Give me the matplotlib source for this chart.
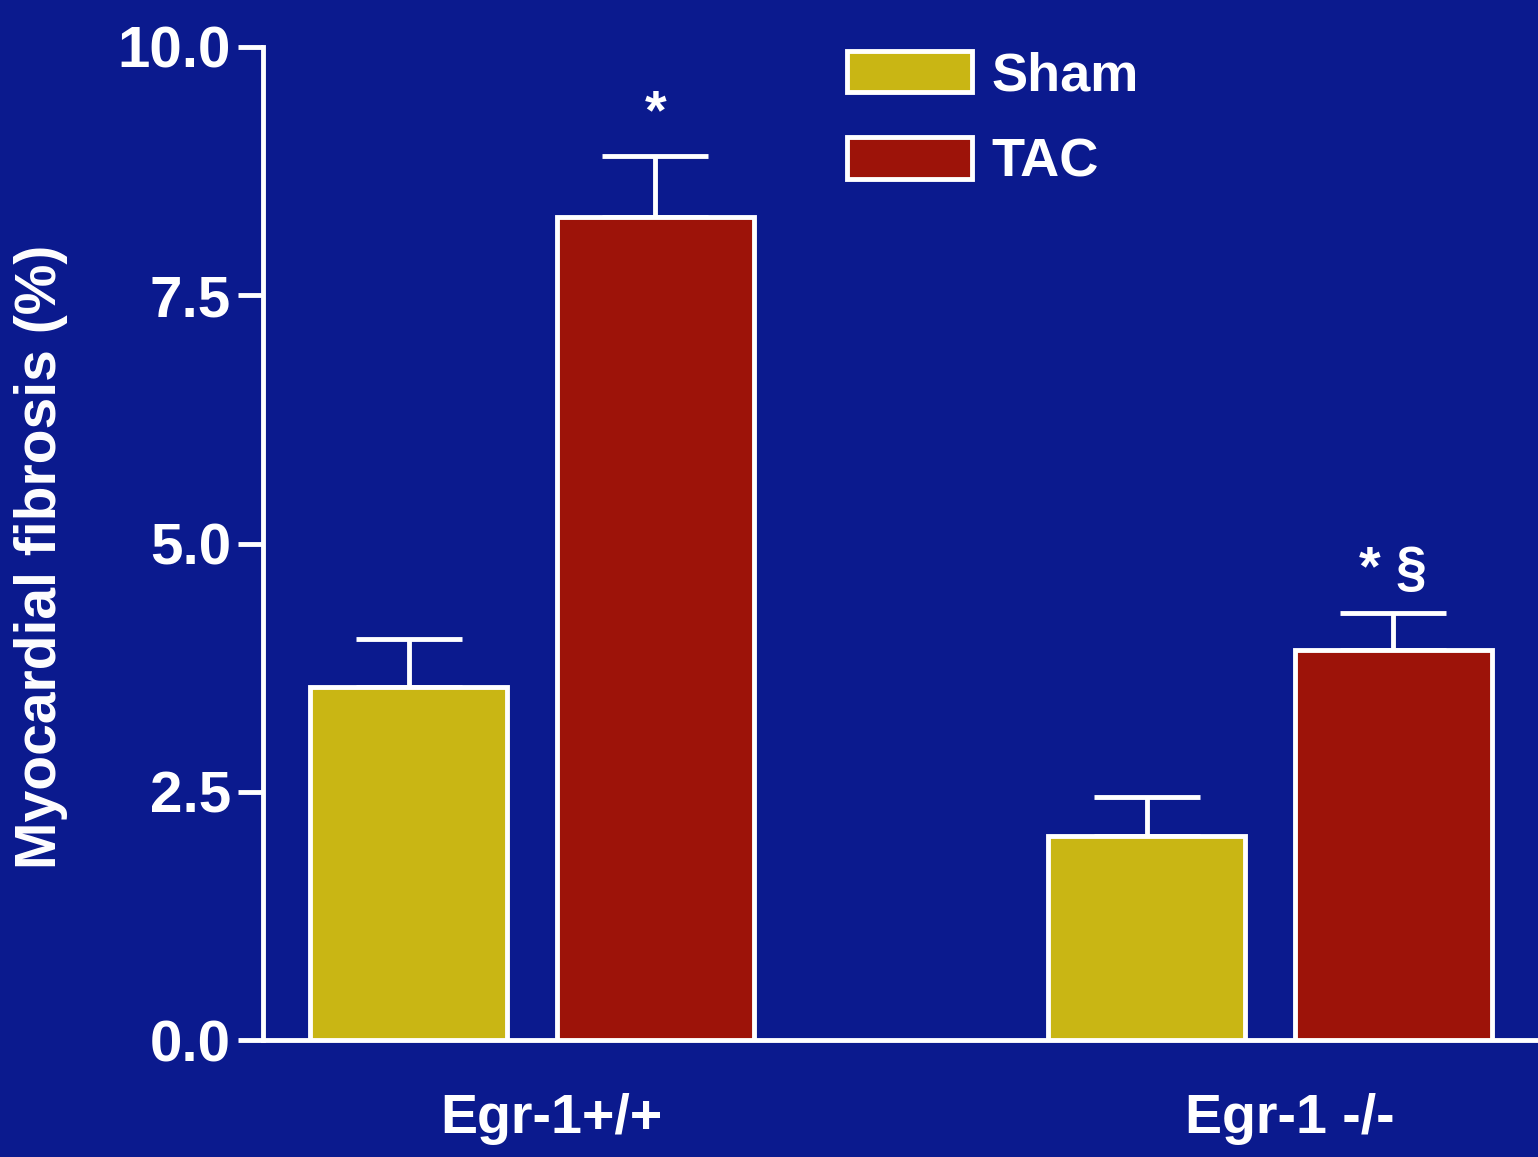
import numpy as np
import matplotlib
matplotlib.use("Agg")
import matplotlib.pyplot as plt
import matplotlib.transforms as mtransforms

# Myocardial fibrosis after TAC in wild-type vs Egr-1 knockout mice

groups = ["Egr-1+/+", "Egr-1 -/-"]
series = ["Sham", "TAC"]
sham_mean = [3.55, 2.05]
sham_sem = [0.49, 0.40]
tac_mean = [8.29, 3.93]
tac_sem = [0.61, 0.37]
tac_marks = ["*", "* \u00a7"]

BG = "#0b1a8e"
YELLOW = "#c9b614"
RED = "#9d1309"
WHITE = "white"

plt.rcParams["font.family"] = ["Liberation Sans", "DejaVu Sans"]
plt.rcParams["font.weight"] = "bold"

fig = plt.figure(figsize=(15.38, 11.57), dpi=100, facecolor=BG)
ax = fig.add_axes([263 / 1538, 0.1011, 1 - 263 / 1538, 0.8583])
ax.set_facecolor(BG)

x = np.arange(len(groups))
offset = 0.167
width = 0.267
lw = 3.5

bars_sham = ax.bar(x - offset, sham_mean, width, color=YELLOW, edgecolor=WHITE,
                   linewidth=lw, label=series[0], zorder=3)
bars_tac = ax.bar(x + offset, tac_mean, width, color=RED, edgecolor=WHITE,
                  linewidth=lw, label=series[1], zorder=3)

# upper-only SEM whiskers
for xs, m, e in [(x - offset, sham_mean, sham_sem), (x + offset, tac_mean, tac_sem)]:
    ax.errorbar(xs, m, yerr=[np.zeros(len(e)), e], fmt="none", ecolor=WHITE,
                elinewidth=lw, capsize=38, capthick=lw, zorder=2)

# significance marks above TAC bars
for xi, m, e, txt in zip(x + offset, tac_mean, tac_sem, tac_marks):
    ax.text(xi, m + e + 0.16, txt, ha="center", va="bottom", color=WHITE,
            fontsize=40, fontweight="bold")

ax.set_xlim(-0.3645, 1.363)
ax.set_ylim(0, 10)

yt = [0, 2.5, 5.0, 7.5, 10.0]
ax.set_yticks(yt)
ax.set_yticklabels([f"{v:.1f}" for v in yt])
ax.set_xticks(x)
ax.set_xticklabels(groups)

ax.tick_params(axis="y", colors=WHITE, length=18, width=lw, labelsize=42, pad=5)
ax.tick_params(axis="x", colors=WHITE, length=0, labelsize=40, pad=38)

shift = mtransforms.ScaledTranslation(14 / 72, 0, fig.dpi_scale_trans)
for lab in ax.get_xticklabels():
    lab.set_transform(lab.get_transform() + shift)

for side in ["top", "right"]:
    ax.spines[side].set_visible(False)
for side in ["left", "bottom"]:
    ax.spines[side].set_color(WHITE)
    ax.spines[side].set_linewidth(lw)

ax.set_ylabel("Myocardial fibrosis (%)", color=WHITE, fontsize=41, fontweight="bold")
ax.yaxis.set_label_coords(-0.153, 0.487)

leg = ax.legend(handles=[bars_sham, bars_tac], loc="upper left",
                bbox_to_anchor=(847 / 1538, 1 - 51 / 1157), bbox_transform=fig.transFigure,
                frameon=False, fontsize=39, handlelength=2.3, handleheight=0.8,
                handletextpad=0.36, labelspacing=0.66, borderpad=0, borderaxespad=0)
for t in leg.get_texts():
    t.set_color(WHITE)

fig.savefig("out.png", dpi=100, facecolor=BG)
